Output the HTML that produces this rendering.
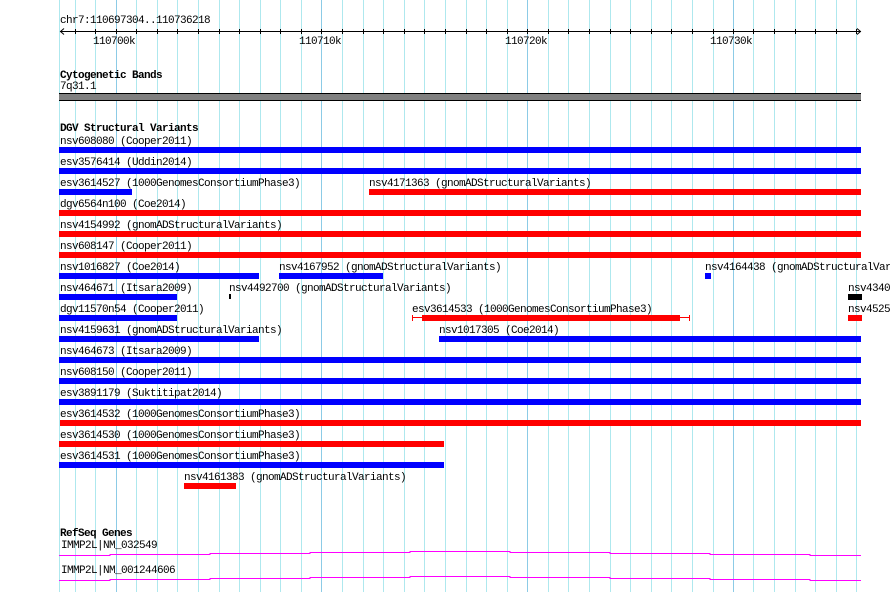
<!DOCTYPE html>
<html><head><meta charset="utf-8"><style>
html,body{margin:0;padding:0;background:#fff;}
svg{display:block;}
text{font-family:"Liberation Mono",monospace;font-size:11px;letter-spacing:-0.6px;fill:#000;}
.b{font-weight:bold;}
</style></head><body>
<svg width="890" height="592" viewBox="0 0 890 592" xmlns="http://www.w3.org/2000/svg" shape-rendering="crispEdges">
<g stroke="#aee8ee" stroke-width="1">
<line x1="59.5" y1="0" x2="59.5" y2="592"/>
<line x1="75.5" y1="0" x2="75.5" y2="592"/><line x1="95.5" y1="0" x2="95.5" y2="592"/>
<line x1="136.5" y1="0" x2="136.5" y2="592"/><line x1="157.5" y1="0" x2="157.5" y2="592"/><line x1="177.5" y1="0" x2="177.5" y2="592"/><line x1="198.5" y1="0" x2="198.5" y2="592"/><line x1="219.5" y1="0" x2="219.5" y2="592"/><line x1="239.5" y1="0" x2="239.5" y2="592"/><line x1="260.5" y1="0" x2="260.5" y2="592"/><line x1="280.5" y1="0" x2="280.5" y2="592"/><line x1="301.5" y1="0" x2="301.5" y2="592"/>
<line x1="342.5" y1="0" x2="342.5" y2="592"/><line x1="363.5" y1="0" x2="363.5" y2="592"/><line x1="383.5" y1="0" x2="383.5" y2="592"/><line x1="404.5" y1="0" x2="404.5" y2="592"/><line x1="424.5" y1="0" x2="424.5" y2="592"/><line x1="445.5" y1="0" x2="445.5" y2="592"/><line x1="466.5" y1="0" x2="466.5" y2="592"/><line x1="486.5" y1="0" x2="486.5" y2="592"/><line x1="507.5" y1="0" x2="507.5" y2="592"/>
<line x1="548.5" y1="0" x2="548.5" y2="592"/><line x1="568.5" y1="0" x2="568.5" y2="592"/><line x1="589.5" y1="0" x2="589.5" y2="592"/><line x1="610.5" y1="0" x2="610.5" y2="592"/><line x1="630.5" y1="0" x2="630.5" y2="592"/><line x1="651.5" y1="0" x2="651.5" y2="592"/><line x1="671.5" y1="0" x2="671.5" y2="592"/><line x1="692.5" y1="0" x2="692.5" y2="592"/><line x1="713.5" y1="0" x2="713.5" y2="592"/>
<line x1="753.5" y1="0" x2="753.5" y2="592"/><line x1="774.5" y1="0" x2="774.5" y2="592"/><line x1="795.5" y1="0" x2="795.5" y2="592"/><line x1="815.5" y1="0" x2="815.5" y2="592"/><line x1="836.5" y1="0" x2="836.5" y2="592"/><line x1="856.5" y1="0" x2="856.5" y2="592"/>
</g>
<g stroke="#8ccbe6" stroke-width="1">
<line x1="116.5" y1="0" x2="116.5" y2="592"/><line x1="321.5" y1="0" x2="321.5" y2="592"/><line x1="527.5" y1="0" x2="527.5" y2="592"/><line x1="733.5" y1="0" x2="733.5" y2="592"/>
</g>

<!-- ruler -->
<text x="60" y="23">chr7:110697304..110736218</text>
<line x1="60" y1="31.5" x2="861" y2="31.5" stroke="#000"/>
<polyline points="64,28.5 60.5,31.5 64,34.5" fill="none" stroke="#000" shape-rendering="auto"/>
<polyline points="857,28.5 860.5,31.5 857,34.5" fill="none" stroke="#000" shape-rendering="auto"/>
<g stroke="#000">
<line x1="75.5" y1="29" x2="75.5" y2="34"/><line x1="95.5" y1="29" x2="95.5" y2="34"/><line x1="116.5" y1="29" x2="116.5" y2="34"/><line x1="136.5" y1="29" x2="136.5" y2="34"/><line x1="157.5" y1="29" x2="157.5" y2="34"/><line x1="177.5" y1="29" x2="177.5" y2="34"/><line x1="198.5" y1="29" x2="198.5" y2="34"/><line x1="219.5" y1="29" x2="219.5" y2="34"/><line x1="239.5" y1="29" x2="239.5" y2="34"/><line x1="260.5" y1="29" x2="260.5" y2="34"/><line x1="280.5" y1="29" x2="280.5" y2="34"/><line x1="301.5" y1="29" x2="301.5" y2="34"/><line x1="321.5" y1="29" x2="321.5" y2="34"/><line x1="342.5" y1="29" x2="342.5" y2="34"/><line x1="363.5" y1="29" x2="363.5" y2="34"/><line x1="383.5" y1="29" x2="383.5" y2="34"/><line x1="404.5" y1="29" x2="404.5" y2="34"/><line x1="424.5" y1="29" x2="424.5" y2="34"/><line x1="445.5" y1="29" x2="445.5" y2="34"/><line x1="466.5" y1="29" x2="466.5" y2="34"/><line x1="486.5" y1="29" x2="486.5" y2="34"/><line x1="507.5" y1="29" x2="507.5" y2="34"/><line x1="527.5" y1="29" x2="527.5" y2="34"/><line x1="548.5" y1="29" x2="548.5" y2="34"/><line x1="568.5" y1="29" x2="568.5" y2="34"/><line x1="589.5" y1="29" x2="589.5" y2="34"/><line x1="610.5" y1="29" x2="610.5" y2="34"/><line x1="630.5" y1="29" x2="630.5" y2="34"/><line x1="651.5" y1="29" x2="651.5" y2="34"/><line x1="671.5" y1="29" x2="671.5" y2="34"/><line x1="692.5" y1="29" x2="692.5" y2="34"/><line x1="713.5" y1="29" x2="713.5" y2="34"/><line x1="733.5" y1="29" x2="733.5" y2="34"/><line x1="753.5" y1="29" x2="753.5" y2="34"/><line x1="774.5" y1="29" x2="774.5" y2="34"/><line x1="795.5" y1="29" x2="795.5" y2="34"/><line x1="815.5" y1="29" x2="815.5" y2="34"/><line x1="836.5" y1="29" x2="836.5" y2="34"/><line x1="856.5" y1="29" x2="856.5" y2="34"/>
</g>
<text x="93" y="44">110700k</text><text x="299" y="44">110710k</text><text x="505" y="44">110720k</text><text x="710" y="44">110730k</text>

<!-- cytobands -->
<text class="b" x="60" y="78">Cytogenetic Bands</text>
<text x="60" y="89">7q31.1</text>
<rect x="59" y="93" width="802" height="8" fill="#000"/>
<rect x="59" y="94" width="802" height="6" fill="#808080"/>

<!-- DGV -->
<text class="b" x="60" y="131">DGV Structural Variants</text>
<g>
<text x="60" y="144">nsv608080 (Cooper2011)</text><rect x="59" y="147" width="802" height="6" fill="#0000ff"/>
<text x="60" y="165">esv3576414 (Uddin2014)</text><rect x="59" y="168" width="802" height="6" fill="#0000ff"/>
<text x="60" y="186">esv3614527 (1000GenomesConsortiumPhase3)</text><rect x="59" y="189" width="73" height="6" fill="#0000ff"/>
<text x="369" y="186">nsv4171363 (gnomADStructuralVariants)</text><rect x="369" y="189" width="492" height="6" fill="#ff0000"/>
<text x="60" y="207">dgv6564n100 (Coe2014)</text><rect x="59" y="210" width="802" height="6" fill="#ff0000"/>
<text x="60" y="228">nsv4154992 (gnomADStructuralVariants)</text><rect x="59" y="231" width="802" height="6" fill="#ff0000"/>
<text x="60" y="249">nsv608147 (Cooper2011)</text><rect x="59" y="252" width="802" height="6" fill="#ff0000"/>
<text x="60" y="270">nsv1016827 (Coe2014)</text><rect x="59" y="273" width="200" height="6" fill="#0000ff"/>
<text x="279" y="270">nsv4167952 (gnomADStructuralVariants)</text><rect x="279" y="273" width="104" height="6" fill="#0000ff"/>
<text x="705" y="270">nsv4164438 (gnomADStructuralVariants)</text><rect x="705" y="273" width="6" height="6" fill="#0000ff"/>
<text x="60" y="291">nsv464671 (Itsara2009)</text><rect x="59" y="294" width="118" height="6" fill="#0000ff"/>
<text x="229" y="291">nsv4492700 (gnomADStructuralVariants)</text><rect x="229" y="294" width="2" height="5" fill="#000"/>
<text x="848" y="291">nsv4340</text><rect x="848" y="294" width="14" height="6" fill="#000"/>
<text x="60" y="312">dgv11570n54 (Cooper2011)</text><rect x="59" y="315" width="118" height="6" fill="#0000ff"/>
<text x="412" y="312">esv3614533 (1000GenomesConsortiumPhase3)</text>
<line x1="412" y1="317.5" x2="690" y2="317.5" stroke="#ff0000"/>
<rect x="412" y="315" width="1" height="6" fill="#ff0000"/><rect x="689" y="315" width="1" height="6" fill="#ff0000"/>
<rect x="422" y="315" width="258" height="6" fill="#ff0000"/>
<text x="848" y="312">nsv4525</text><rect x="848" y="315" width="14" height="6" fill="#ff0000"/>
<text x="60" y="333">nsv4159631 (gnomADStructuralVariants)</text><rect x="59" y="336" width="200" height="6" fill="#0000ff"/>
<text x="439" y="333">nsv1017305 (Coe2014)</text><rect x="439" y="336" width="422" height="6" fill="#0000ff"/>
<text x="60" y="354">nsv464673 (Itsara2009)</text><rect x="59" y="357" width="802" height="6" fill="#0000ff"/>
<text x="60" y="375">nsv608150 (Cooper2011)</text><rect x="59" y="378" width="802" height="6" fill="#0000ff"/>
<text x="60" y="396">esv3891179 (Suktitipat2014)</text><rect x="59" y="399" width="802" height="6" fill="#0000ff"/>
<text x="60" y="417">esv3614532 (1000GenomesConsortiumPhase3)</text><rect x="60" y="420" width="801" height="6" fill="#ff0000"/>
<text x="60" y="438">esv3614530 (1000GenomesConsortiumPhase3)</text><rect x="59" y="441" width="385" height="6" fill="#ff0000"/>
<text x="60" y="459">esv3614531 (1000GenomesConsortiumPhase3)</text><rect x="59" y="462" width="385" height="6" fill="#0000ff"/>
<text x="184" y="480">nsv4161383 (gnomADStructuralVariants)</text><rect x="184" y="483" width="52" height="6" fill="#ff0000"/>
</g>

<!-- RefSeq -->
<text class="b" x="60" y="536">RefSeq Genes</text>
<text x="61" y="548">IMMP2L|NM_032549</text>
<polyline fill="none" stroke="#ff00ff" points="59,555.5 110,555.5 110,554.5 210,554.5 210,553.5 310,553.5 310,552.5 410,552.5 410,551.5 510,551.5 510,552.5 610,552.5 610,553.5 710,553.5 710,554.5 810,554.5 810,555.5 861,555.5"/>
<text x="61" y="573">IMMP2L|NM_001244606</text>
<polyline fill="none" stroke="#ff00ff" points="59,580.5 110,580.5 110,579.5 210,579.5 210,578.5 310,578.5 310,577.5 410,577.5 410,576.5 510,576.5 510,577.5 610,577.5 610,578.5 710,578.5 710,579.5 810,579.5 810,580.5 861,580.5"/>
</svg>
</body></html>
